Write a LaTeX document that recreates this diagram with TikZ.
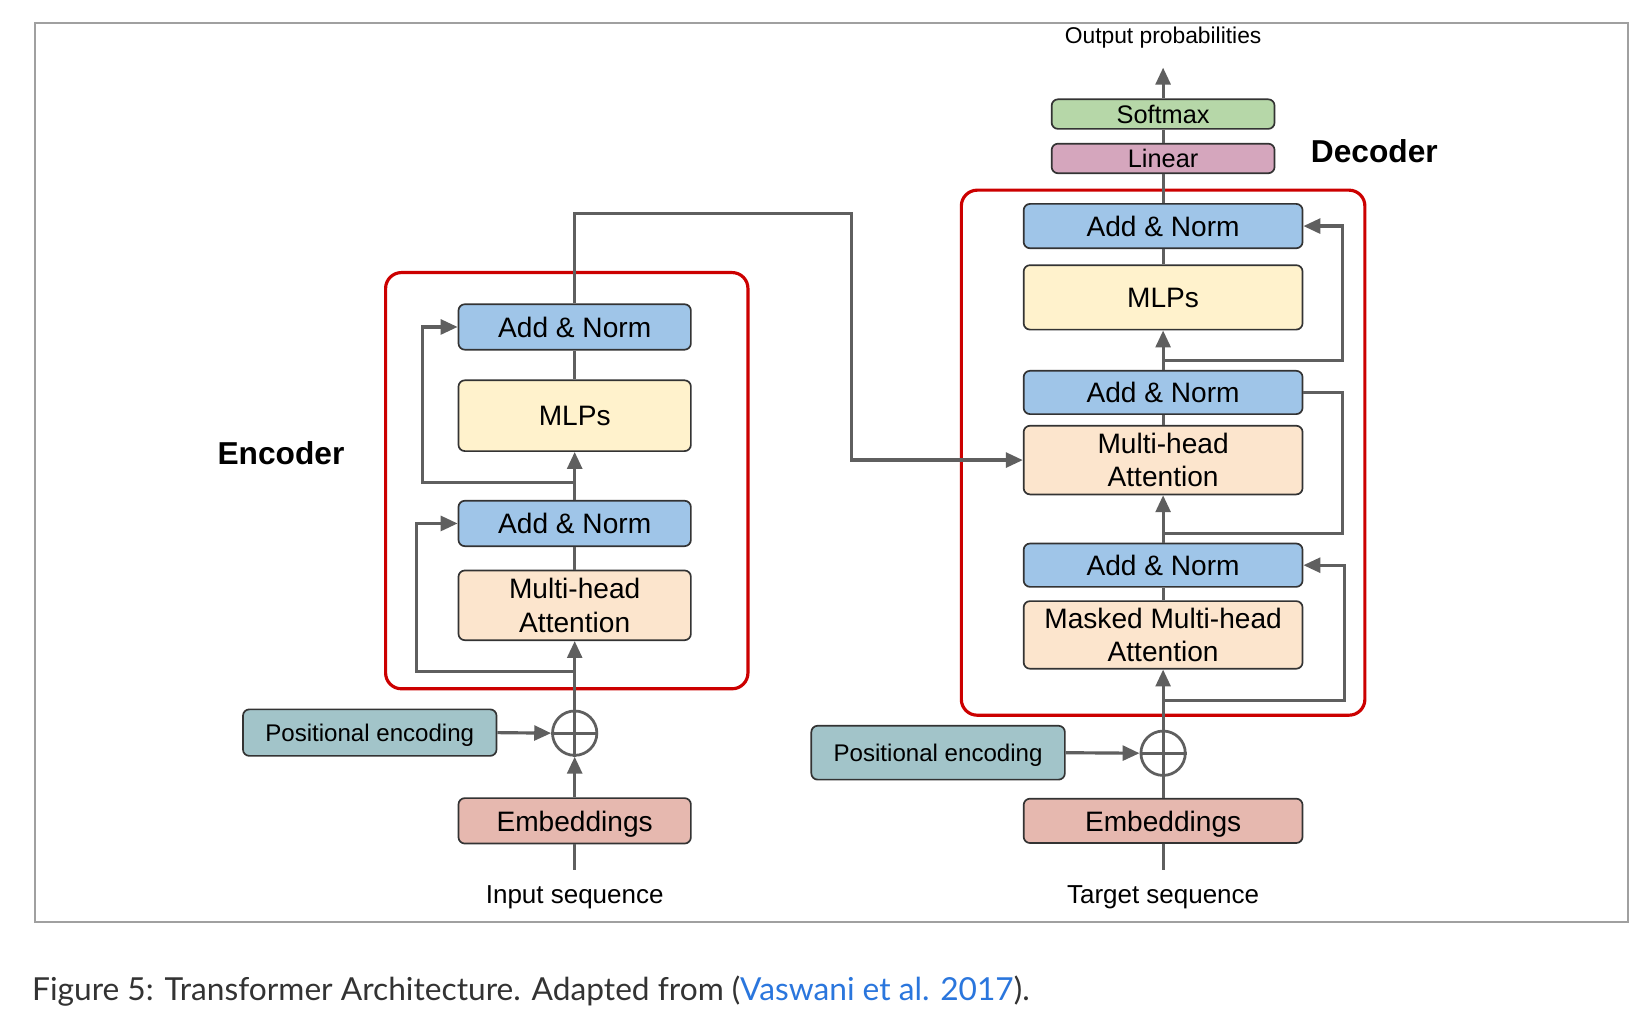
\documentclass[tikz,border=0pt]{standalone}
\usepackage{fontspec}
\setmainfont{Liberation Sans}
\newfontfamily\capfont{Lato}
\usetikzlibrary{arrows.meta}
\definecolor{anblue}{HTML}{9FC5E8}
\definecolor{mlpyellow}{HTML}{FFF2CC}
\definecolor{attpeach}{HTML}{FCE5CD}
\definecolor{posteal}{HTML}{A2C4C9}
\definecolor{embrose}{HTML}{E6B8AF}
\definecolor{linpink}{HTML}{D5A6BD}
\definecolor{softgreen}{HTML}{B6D7A8}
\definecolor{boxline}{HTML}{333333}
\definecolor{lineg}{HTML}{5F5F5F}
\definecolor{redframe}{HTML}{CC0000}
\definecolor{outerg}{HTML}{A0A0A0}
\definecolor{capgray}{HTML}{333333}
\definecolor{linkblue}{RGB}{42,118,221}
\newcommand\bxfont{\fontsize{13.3}{15.8}\selectfont}
\begin{document}
\begin{tikzpicture}[x=0.5pt,y=-0.5pt,
  blk/.style={draw=boxline, line width=0.8pt, rounded corners=3pt, inner sep=0pt,
    align=center, text depth=0pt, font=\bxfont},
  wide/.style={minimum width=110pt},
  dwide/.style={minimum width=132pt},
  conn/.style={draw=lineg, line width=1.5pt},
  arr/.style={conn, -{Triangle[length=8pt,width=7pt]}},
  plus/.style={circle, draw=lineg, line width=1.3pt, minimum size=21pt, inner sep=0pt},
  frame/.style={draw=redframe, line width=1.5pt, rounded corners=7.5pt},
  lbl/.style={inner sep=0pt, font=\fontsize{12.3}{14}\selectfont},
  title/.style={inner sep=0pt, font=\fontsize{15}{18}\selectfont\bfseries}]
\fill[white] (0,0) rectangle (1560,960);
\useasboundingbox (0,0) rectangle (1560,960);
\draw[draw=outerg, line width=1pt] (33,22) rectangle (1541,873);

% red frames
\draw[frame] (365,258) rectangle (708,652);
\draw[frame] (910,180) rectangle (1292,677);

% ---------- Encoder ----------
\node[blk, wide, minimum height=21.5pt, fill=anblue] (ean2) at (544,309.5) {Add \& Norm};
\node[blk, wide, minimum height=33.5pt, fill=mlpyellow] (emlp) at (544,393.5) {MLPs};
\node[blk, wide, minimum height=21.5pt, fill=anblue] (ean1) at (544,495.5) {Add \& Norm};
\node[blk, wide, minimum height=33pt, fill=attpeach] (emha) at (544,573) {Multi-head\\Attention};
\node[blk, minimum width=120pt, minimum height=22pt, fill=posteal, font=\fontsize{11.4}{13}\selectfont] (epos) at (350,693.5) {Positional encoding};
\node[plus] (eplus) at (544,694) {};
\node[blk, wide, minimum height=21.5pt, fill=embrose] (eemb) at (544,777) {Embeddings};
\node[lbl, anchor=base] (ein) at (544,855.5) {Input sequence};
\coordinate (einend) at (544,824);
\node[title] (enclabel) at (266,429) {Encoder};

% ---------- Decoder ----------
\node[blk, minimum width=105.5pt, minimum height=14pt, fill=softgreen, font=\fontsize{12}{14}\selectfont] (dsoft) at (1101,108) {Softmax};
\node[blk, minimum width=105.5pt, minimum height=14pt, fill=linpink, font=\fontsize{12}{14}\selectfont] (dlin) at (1101,150) {Linear};
\node[blk, dwide, minimum height=21pt, fill=anblue] (dan3) at (1101,214) {Add \& Norm};
\node[blk, dwide, minimum height=30.5pt, fill=mlpyellow] (dmlp) at (1101,281.5) {MLPs};
\node[blk, dwide, minimum height=20.5pt, fill=anblue] (dan2) at (1101,371.5) {Add \& Norm};
\node[blk, dwide, minimum height=32.5pt, fill=attpeach] (dmha) at (1101,435.5) {Multi-head\\Attention};
\node[blk, dwide, minimum height=20.5pt, fill=anblue] (dan1) at (1101,535) {Add \& Norm};
\node[blk, dwide, minimum height=32pt, fill=attpeach] (dmmha) at (1101,601) {Masked Multi-head\\Attention};
\node[blk, minimum width=120pt, minimum height=25.5pt, fill=posteal, font=\fontsize{11.4}{13}\selectfont] (dpos) at (888,712.5) {Positional encoding};
\node[plus] (dplus) at (1101,713) {};
\node[blk, dwide, minimum height=21pt, fill=embrose] (demb) at (1101,777) {Embeddings};
\node[lbl, anchor=base] (dtarget) at (1101,855.5) {Target sequence};
\coordinate (dinend) at (1101,824);
\node[inner sep=0pt, anchor=base, font=\fontsize{10.8}{13}\selectfont] (dout) at (1101,41.3) {Output probabilities};
\coordinate (doutend) at (1101,64);
\node[title] (declabel) at (1301,143) {Decoder};

% ---------- Encoder connectors ----------
\draw[conn] (eemb.south) -- (einend);
\draw[arr] (eemb.north) -- (eplus.south);
\draw[arr] (epos.east) -- (eplus.west);
\draw[conn] (eplus.north) -- (eplus.south);
\draw[conn] (eplus.west) -- (eplus.east);
\draw[arr] (eplus.north) -- (emha.south);
\draw[conn] (emha.north) -- (ean1.south);
\draw[arr] (ean1.north) -- (emlp.south);
\draw[conn] (emlp.north) -- (ean2.south);
\coordinate (eres1) at (544,636);
\coordinate (eres2) at (544,457);
\draw[arr] (eres1) -- (394,636) |- (ean1.west);
\draw[arr] (eres2) -- (400,457) |- (ean2.west);
\draw[arr] (ean2.north) |- (806,202) |- (dmha.west);

% ---------- Decoder connectors ----------
\draw[conn] (demb.south) -- (dinend);
\draw[conn] (demb.north) -- (dplus.south);
\draw[arr] (dpos.east) -- (dplus.west);
\draw[conn] (dplus.north) -- (dplus.south);
\draw[conn] (dplus.west) -- (dplus.east);
\draw[arr] (dplus.north) -- (dmmha.south);
\draw[conn] (dmmha.north) -- (dan1.south);
\draw[arr] (dan1.north) -- (dmha.south);
\draw[conn] (dmha.north) -- (dan2.south);
\draw[arr] (dan2.north) -- (dmlp.south);
\draw[conn] (dmlp.north) -- (dan3.south);
\draw[conn] (dan3.north) -- (dlin.south);
\draw[conn] (dlin.north) -- (dsoft.south);
\draw[arr] (dsoft.north) -- (doutend);
\coordinate (dres1) at (1101,663);
\coordinate (dres2) at (1101,505);
\coordinate (dres3) at (1101,341.5);
\draw[arr] (dres1) -- (1273,663) |- (dan1.east);
\draw[conn] (dres2) -- (1271,505) |- (dan2.east);
\draw[arr] (dres3) -- (1271,341.5) |- (dan3.east);

% ---------- Caption ----------
\node[anchor=base west, inner sep=0pt, text=capgray, font=\capfont\fontsize{15}{17}\selectfont] (caption) at (30,947)
  {Figure 5: Transformer Architecture. Adapted from (\textcolor{linkblue}{Vaswani et al. 2017}).};
\end{tikzpicture}
\end{document}
